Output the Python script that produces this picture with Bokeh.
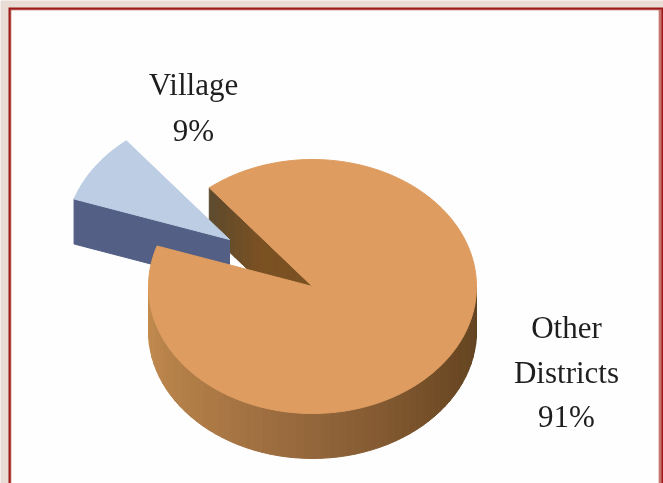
import numpy as np
from bokeh.plotting import figure
from bokeh.models import Range1d
from bokeh.embed import file_html
from bokeh.resources import INLINE
from bokeh.core.properties import value

categories = ["Village", "Other Districts"]
values = [9, 91]
label_lines = [["Village", "9%"], ["Other", "Districts", "91%"]]

W, H = 663, 483
CX, CY, RX, RY, DEPTH = 312, 286, 164, 127, 45
START = 288.6
EXPLODE = (-83, -47)
FONT = "Liberation Serif"


def pt(a, cx=CX, cy=CY):
    r = np.radians(a)
    return cx + RX * np.sin(r), cy - RY * np.cos(r)


def lerp(c1, c2, t):
    a = [int(c1[i:i + 2], 16) for i in (1, 3, 5)]
    b = [int(c2[i:i + 2], 16) for i in (1, 3, 5)]
    return "#%02x%02x%02x" % tuple(round(a[i] + (b[i] - a[i]) * t) for i in range(3))


spans = [v / sum(values) * 360 for v in values]
v0, v1 = START, START + spans[0]
m0, m1 = v1, v1 + spans[1]

p = figure(width=W, height=H, x_range=Range1d(0, W), y_range=Range1d(H, 0),
           output_backend="svg", toolbar_location=None, min_border=0,
           styles={"position": "fixed", "left": "0px", "top": "0px"})
p.axis.visible = False
p.grid.visible = False
p.outline_line_color = None
p.background_fill_color = "#e9dcd5"
p.border_fill_color = "#e9dcd5"

# frame
p.quad(left=[8], right=[W + 5], top=[7], bottom=[H + 5], fill_color="#9c1c1c", line_color=None)
p.quad(left=[10], right=[661], top=[9], bottom=[H + 5], fill_color="#c9736f", line_color=None)
p.quad(left=[11], right=[658], top=[10], bottom=[H + 5], fill_color="#e9dcd5", line_color=None)
p.quad(left=[11], right=[658], top=[10], bottom=[H + 5], fill_color="#fefefe", line_color=None)

# outer wall of the main slice
edges = np.linspace(90, 270, 61)
xs, ys, cols = [], [], []
stops = [(0.0, "#5f4222"), (0.2, "#6f4b25"), (0.5, "#93663b"), (0.72, "#ad7a46"), (1.0, "#c48d50")]
for i in range(len(edges) - 1):
    x0, y0 = pt(edges[i])
    x1, y1 = pt(edges[i + 1])
    xs.append([x0, x1, x1, x0])
    ys.append([y0, y1, y1 + DEPTH, y0 + DEPTH])
    t = (i + 0.5) / (len(edges) - 1)
    for (s0, c0), (s1, c1) in zip(stops, stops[1:]):
        if s0 <= t <= s1:
            cols.append(lerp(c0, c1, (t - s0) / (s1 - s0)))
            break
p.patches(xs, ys, fill_color=cols, line_color=cols, line_width=1)

# cut wall of the main slice
ex, ey = pt(m0)
n = 12
xs, ys, cols = [], [], []
for i in range(n):
    a, b = i / n, (i + 1) / n
    xa, ya = ex + (CX - ex) * a, ey + (CY - ey) * a
    xb, yb = ex + (CX - ex) * b, ey + (CY - ey) * b
    xs.append([xa, xb, xb, xa])
    ys.append([ya, yb, yb + DEPTH, ya + DEPTH])
    cols.append(lerp("#5d4a2e", "#7a5122", min(1, (i + 0.5) / n * 2)))
p.patches(xs, ys, fill_color=cols, line_color=cols, line_width=1)

# exploded slice
vx, vy = CX + EXPLODE[0], CY + EXPLODE[1]
arc = np.linspace(v0, v1, 24)
ax, ay = pt(arc, vx, vy)
lx, ly = pt(v0, vx, vy)
p.patch([lx, vx, vx, lx], [ly, vy, vy + DEPTH, ly + DEPTH], fill_color="#535f85", line_color="#535f85")
p.patch([vx, *ax], [vy, *ay], fill_color="#bccde4", line_color="#bccde4")

# top of the main slice
arc = np.linspace(m0, m1, 180)
ax, ay = pt(arc)
p.patch([CX, *ax], [CY, *ay], fill_color="#de9c60", line_color="#de9c60")

# labels
anchors = [(193, 84), (566, 327)]
steps = [46, 44.5]
for lines, (tx, ty), step in zip(label_lines, anchors, steps):
    p.text([tx] * len(lines), [ty + i * step for i in range(len(lines))], text=lines,
           text_font=value(FONT), text_font_size="31px", text_color="#1e1e1e",
           text_align="center", text_baseline="alphabetic")

open("out.html", "w").write(file_html(p, INLINE))
